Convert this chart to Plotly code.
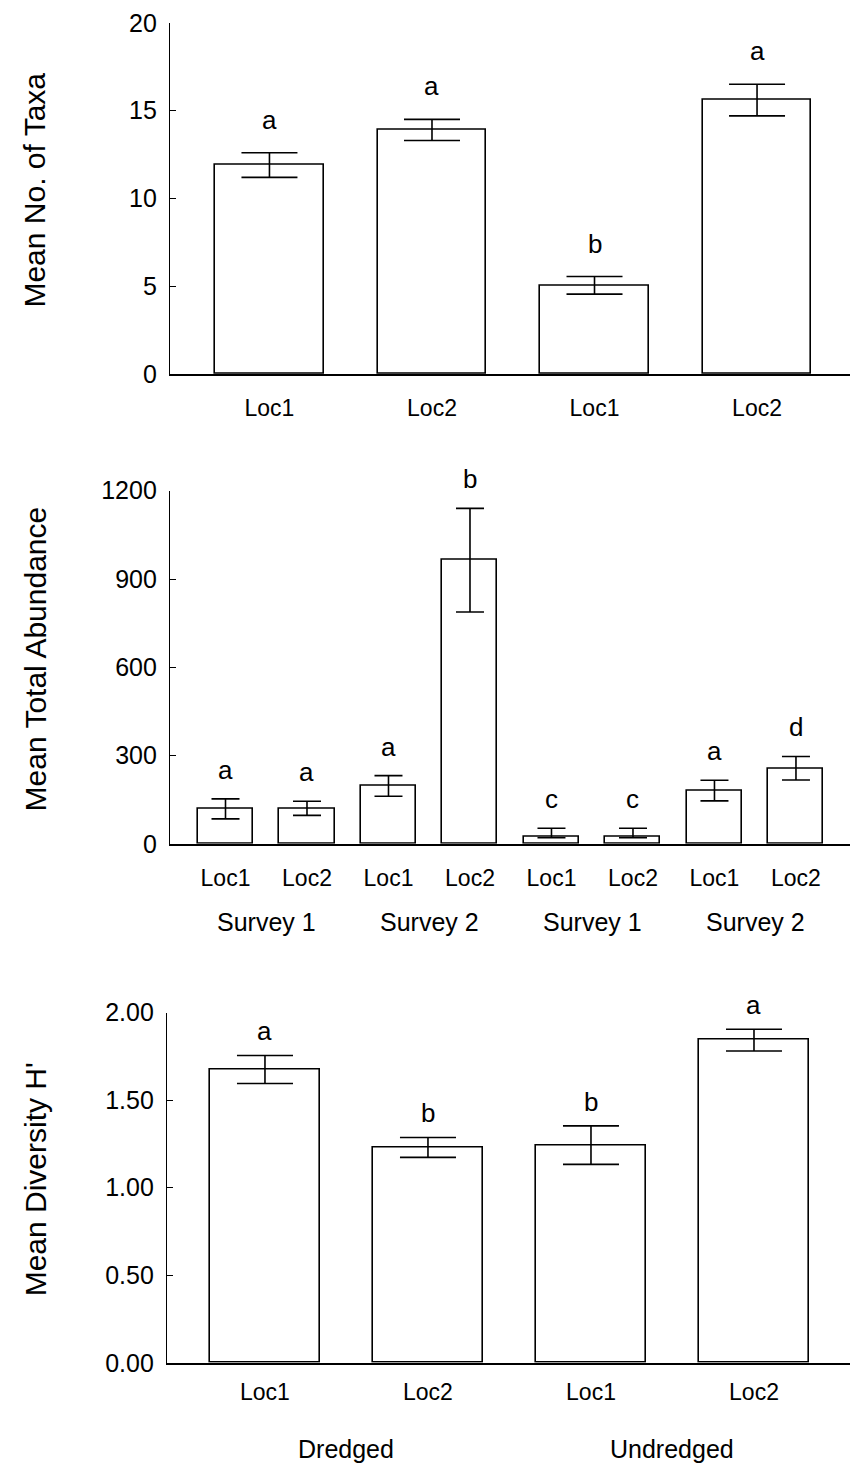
import plotly.graph_objects as go

# ---- Data ----
taxa_labels = ["Loc1", "Loc2", "Loc1", "Loc2"]
taxa_mean = [11.9, 13.9, 5.05, 15.6]
taxa_err = [0.7, 0.6, 0.5, 0.9]
taxa_letters = ["a", "a", "b", "a"]

abund_labels = ["Loc1", "Loc2", "Loc1", "Loc2", "Loc1", "Loc2", "Loc1", "Loc2"]
abund_mean = [119, 121, 197, 964, 23, 23, 181, 257]
abund_err_plus = [34, 24, 35, 176, 30, 30, 35, 40]
abund_err_minus = [34, 24, 35, 176, 2, 2, 35, 40]
abund_letters = ["a", "a", "a", "b", "c", "c", "a", "d"]
survey_labels = ["Survey 1", "Survey 2", "Survey 1", "Survey 2"]

div_labels = ["Loc1", "Loc2", "Loc1", "Loc2"]
div_mean = [1.675, 1.23, 1.243, 1.843]
div_err = [0.08, 0.057, 0.11, 0.062]
div_letters = ["a", "b", "b", "a"]
treatment_labels = ["Dredged", "Undredged"]

FONT = "Liberation Sans, Arial, Helvetica, sans-serif"
H = 1469.0
W = 850.0

fig = go.Figure()

def py(pix):
    return 1 - pix / H

panels = [
    dict(x="x", y="y", labels=taxa_labels, mean=taxa_mean, ep=taxa_err, em=taxa_err,
         letters=taxa_letters, top=9, bot=367, xr=[-0.612, 3.572], dtick=5, fmt="d",
         yr=[0, 20], cap=28, shift=33, bw=0.665, left=170, title="Mean No. of Taxa",
         tcy=180, stand=13),
    dict(x="x2", y="y2", labels=abund_labels, mean=abund_mean, ep=abund_err_plus, em=abund_err_minus,
         letters=abund_letters, top=486, bot=846, xr=[-0.681, 7.663], dtick=300, fmt="d",
         yr=[0, 1200], cap=14, shift=29, bw=0.675, left=170, title="Mean Total Abundance",
         tcy=658, stand=13),
    dict(x="x3", y="y3", labels=div_labels, mean=div_mean, ep=div_err, em=div_err,
         letters=div_letters, top=1018, bot=1375, xr=[-0.601, 3.589], dtick=0.5, fmt=".2f",
         yr=[0, 2.0], cap=28, shift=24, bw=0.675, left=167, title="Mean Diversity H'",
         tcy=1188, stand=8),
]

layout_axes = {}
annotations = []
for i, p in enumerate(panels):
    n = len(p["labels"])
    xs = list(range(n))
    fig.add_trace(go.Bar(
        x=xs, y=p["mean"], width=p["bw"],
        marker=dict(color="white", line=dict(color="black", width=1.6)),
        error_y=dict(type="data", symmetric=False, array=p["ep"], arrayminus=p["em"],
                     color="black", thickness=1.6, width=p["cap"]),
        xaxis=p["x"], yaxis=p["y"], showlegend=False,
    ))
    xkey = "xaxis" if i == 0 else f"xaxis{i+1}"
    ykey = "yaxis" if i == 0 else f"yaxis{i+1}"
    layout_axes[xkey] = dict(
        domain=[p["left"] / W, 1.0], range=p["xr"], anchor=p["y"],
        tickmode="array", tickvals=xs, ticktext=p["labels"],
        showline=True, linecolor="black", linewidth=1.6, ticks="", showgrid=False,
        zeroline=False, tickfont=dict(family=FONT, size=23, color="black"),
        ticklabelstandoff=p["stand"], fixedrange=True,
    )
    layout_axes[ykey] = dict(
        domain=[py(p["bot"]), py(p["top"])], range=p["yr"], anchor=p["x"],
        dtick=p["dtick"], tick0=0, tickformat=p["fmt"],
        showline=True, linecolor="black", linewidth=1.3, ticks="inside", ticklen=6,
        tickcolor="black", showgrid=False, zeroline=False,
        tickfont=dict(family=FONT, size=25, color="black"), ticklabelstandoff=7,
        fixedrange=True,
    )
    for j in range(n):
        annotations.append(dict(
            x=j, y=p["mean"][j] + p["ep"][j], xref=p["x"], yref=p["y"],
            text=p["letters"][j], showarrow=False, yshift=p["shift"],
            yanchor="middle", xanchor="center",
            font=dict(family=FONT, size=26, color="black"),
        ))
    annotations.append(dict(
        x=35 / W, y=py(p["tcy"]), xref="paper", yref="paper", text=p["title"],
        textangle=-90, showarrow=False, xanchor="center", yanchor="middle",
        font=dict(family=FONT, size=30, color="black"),
    ))

for k, lab in enumerate(survey_labels):
    annotations.append(dict(
        x=2 * k + 0.5, y=py(926), xref="x2", yref="paper", text=lab, showarrow=False,
        xanchor="center", yanchor="middle", font=dict(family=FONT, size=25, color="black"),
    ))
for k, lab in enumerate(treatment_labels):
    annotations.append(dict(
        x=2 * k + 0.5, y=py(1463), xref="x3", yref="paper", text=lab, showarrow=False,
        xanchor="center", yanchor="middle", font=dict(family=FONT, size=25, color="black"),
    ))

fig.update_layout(
    width=850, height=1469, margin=dict(l=0, r=0, t=0, b=0),
    paper_bgcolor="white", plot_bgcolor="white",
    annotations=annotations, bargap=0, **layout_axes,
)

fig.write_html("out.html")
